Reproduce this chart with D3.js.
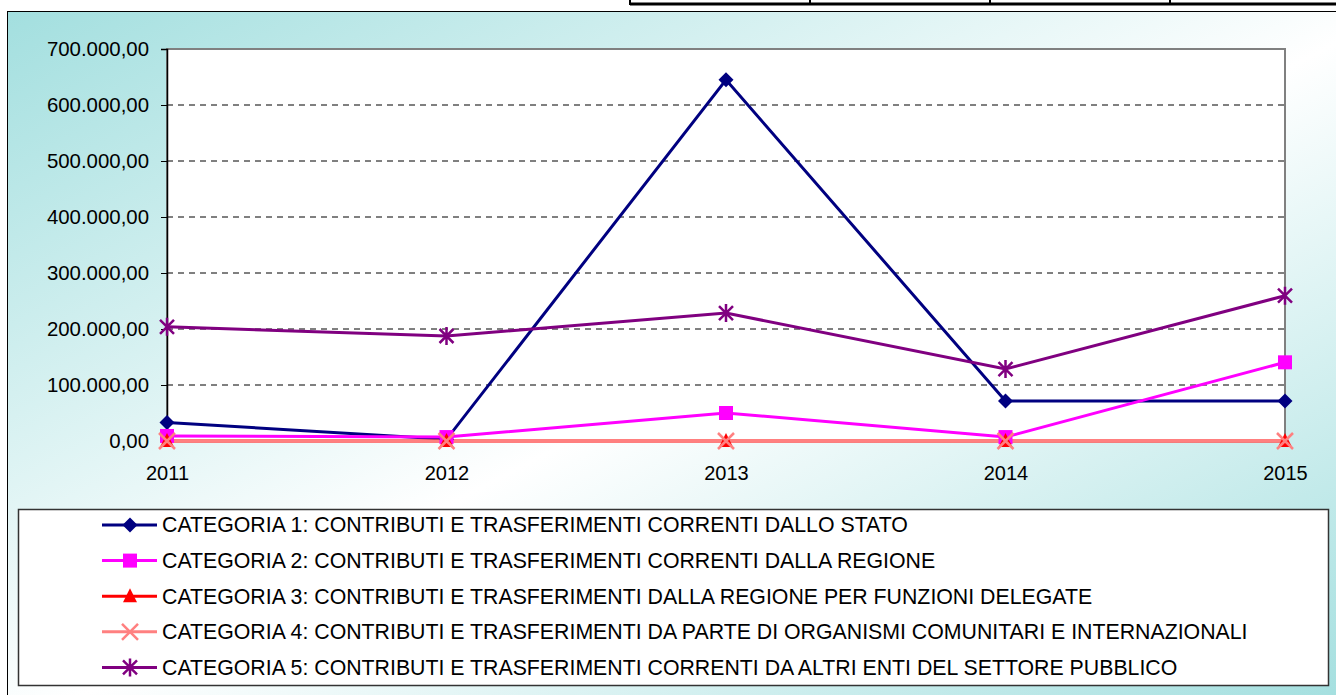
<!DOCTYPE html>
<html>
<head>
<meta charset="utf-8">
<script src="https://cdn.jsdelivr.net/npm/d3@7"></script>
<style>
  html, body { margin: 0; padding: 0; background: #fff; }
  svg { display: block; font-family: "Liberation Sans", Arial, sans-serif; }
</style>
</head>
<body>
<div id="grafico"></div>
<script>
// Dati
const anni = ["2011", "2012", "2013", "2014", "2015"]
const categoria1 = [33000, 3000, 645000, 71500, 71500]
const categoria2 = [9000, 7000, 50000, 7000, 140500]
const categoria3 = [0, 0, 0, 0, 0]
const categoria4 = [0, 0, 0, 0, 0]
const categoria5 = [204000, 187500, 228500, 128500, 259500]
const etichette = [
  "CATEGORIA 1: CONTRIBUTI E TRASFERIMENTI CORRENTI DALLO STATO",
  "CATEGORIA 2: CONTRIBUTI E TRASFERIMENTI CORRENTI DALLA REGIONE",
  "CATEGORIA 3: CONTRIBUTI E TRASFERIMENTI DALLA REGIONE PER FUNZIONI DELEGATE",
  "CATEGORIA 4: CONTRIBUTI E TRASFERIMENTI DA PARTE DI ORGANISMI COMUNITARI E INTERNAZIONALI",
  "CATEGORIA 5: CONTRIBUTI E TRASFERIMENTI CORRENTI DA ALTRI ENTI DEL SETTORE PUBBLICO"
]
const yTicks = [0, 100000, 200000, 300000, 400000, 500000, 600000, 700000]

const serie = [
  { nome: etichette[0], valori: categoria1, colore: "#000080", simbolo: "diamond" },
  { nome: etichette[1], valori: categoria2, colore: "#ff00ff", simbolo: "square" },
  { nome: etichette[2], valori: categoria3, colore: "#ff0000", simbolo: "triangle" },
  { nome: etichette[3], valori: categoria4, colore: "#ff8080", simbolo: "cross" },
  { nome: etichette[4], valori: categoria5, colore: "#800080", simbolo: "star" }
]

const width = 1336
const height = 695

const svg = d3.select("#grafico")
  .append("svg")
  .attr("width", width)
  .attr("height", height)

// sfondo sfumato
const defs = svg.append("defs")
const grad = defs.append("linearGradient")
  .attr("id", "sfondo")
  .attr("x1", 0).attr("y1", 0).attr("x2", 1).attr("y2", 1)
grad.append("stop").attr("offset", "0%").attr("stop-color", "#a3dfdf")
grad.append("stop").attr("offset", "52%").attr("stop-color", "#ffffff")
grad.append("stop").attr("offset", "100%").attr("stop-color", "#a3dfdf")

// pezzo di tabella in alto
svg.append("line")
  .attr("x1", 630).attr("x2", width).attr("y1", 4).attr("y2", 4)
  .attr("stroke", "#000").attr("stroke-width", 3)
;[630, 810, 990, 1170].forEach(x => {
  svg.append("line")
    .attr("x1", x).attr("x2", x).attr("y1", 0).attr("y2", 5)
    .attr("stroke", "#000").attr("stroke-width", 2)
})

svg.append("rect")
  .attr("x", 7.5).attr("y", 11.5)
  .attr("width", width).attr("height", height)
  .attr("fill", "url(#sfondo)")
  .attr("stroke", "#000").attr("stroke-width", 1)

const plot = { left: 167, right: 1285, top: 49, bottom: 441 }

const x = d3.scalePoint()
  .domain(anni)
  .range([plot.left, plot.right])

const y = d3.scaleLinear()
  .domain([0, 700000])
  .range([plot.bottom, plot.top])

svg.append("rect")
  .attr("x", plot.left).attr("y", plot.top)
  .attr("width", plot.right - plot.left).attr("height", plot.bottom - plot.top)
  .attr("fill", "#fff")
  .attr("stroke", "#808080").attr("stroke-width", 2)

// griglia tratteggiata
svg.append("g")
  .selectAll("line")
  .data(yTicks.filter(d => d > 0 && d < 700000))
  .enter()
  .append("line")
  .attr("x1", plot.left).attr("x2", plot.right)
  .attr("y1", d => y(d)).attr("y2", d => y(d))
  .attr("stroke", "#000").attr("stroke-width", 1)
  .attr("stroke-dasharray", "6,5")

const formato = d3.formatLocale({ decimal: ",", thousands: ".", grouping: [3], currency: ["€", ""] })
const fmt = formato.format(",.2f")

const yAxis = d3.axisLeft(y).tickValues(yTicks).tickFormat(fmt).tickSize(6).tickPadding(12)
const gy = svg.append("g")
  .attr("transform", "translate(" + plot.left + ",0)")
  .call(yAxis)
gy.attr("font-size", 20.4).attr("font-family", "Liberation Sans, Arial, sans-serif")
gy.select(".domain").attr("stroke", "#000").attr("stroke-width", 1.5)
gy.selectAll("text").attr("fill", "#000")

const xAxis = d3.axisBottom(x).tickSize(0).tickPadding(25)
const gx = svg.append("g")
  .attr("transform", "translate(0," + plot.bottom + ")")
  .call(xAxis)
gx.attr("font-size", 20).attr("font-family", "Liberation Sans, Arial, sans-serif")
gx.select(".domain").attr("stroke", "#000").attr("stroke-width", 1)
gx.selectAll("text").attr("fill", "#000")

// simboli
function disegnaSimbolo(g, tipo, colore) {
  if (tipo == "diamond") {
    g.append("path").attr("d", "M0,-7.5L7.5,0L0,7.5L-7.5,0Z").attr("fill", colore)
  } else if (tipo == "square") {
    g.append("rect").attr("x", -7).attr("y", -7).attr("width", 14).attr("height", 14).attr("fill", colore)
  } else if (tipo == "triangle") {
    g.append("path").attr("d", "M0,-8L7,6L-7,6Z").attr("fill", colore)
  } else if (tipo == "cross") {
    g.append("path").attr("d", "M-8,-8L8,8M8,-8L-8,8").attr("stroke", colore).attr("stroke-width", 2.5)
  } else if (tipo == "star") {
    g.append("path").attr("d", "M-7,-7L7,7M7,-7L-7,7M0,-9L0,9")
      .attr("stroke", colore).attr("stroke-width", 2.5)
  }
}

const linea = d3.line()
  .x((d, i) => x(anni[i]))
  .y(d => y(d))

serie.forEach(s => {
  svg.append("path")
    .datum(s.valori)
    .attr("d", linea)
    .attr("fill", "none")
    .attr("stroke", s.colore)
    .attr("stroke-width", 3)
})

serie.forEach(s => {
  svg.append("g")
    .selectAll("g")
    .data(s.valori)
    .enter()
    .append("g")
    .attr("transform", (d, i) => "translate(" + x(anni[i]) + "," + y(d) + ")")
    .each(function () { disegnaSimbolo(d3.select(this), s.simbolo, s.colore) })
})

// legenda
const leg = { x: 18.5, y: 509.5, w: 1310, h: 176 }
svg.append("rect")
  .attr("x", leg.x).attr("y", leg.y)
  .attr("width", leg.w).attr("height", leg.h)
  .attr("fill", "#fff")
  .attr("stroke", "#333").attr("stroke-width", 1.5)

const righe = svg.append("g")
  .selectAll("g")
  .data(serie)
  .enter()
  .append("g")
  .attr("transform", (d, i) => "translate(0," + (525 + i * 35.6) + ")")

righe.append("line")
  .attr("x1", 102).attr("x2", 157).attr("y1", 0).attr("y2", 0)
  .attr("stroke", d => d.colore).attr("stroke-width", 3)

righe.append("g")
  .attr("transform", "translate(130,0)")
  .each(function (d) { disegnaSimbolo(d3.select(this), d.simbolo, d.colore) })

righe.append("text")
  .attr("x", 162)
  .attr("dy", "0.35em")
  .attr("font-size", 21.3)
  .attr("fill", "#000")
  .text(d => d.nome)
</script>
</body>
</html>
